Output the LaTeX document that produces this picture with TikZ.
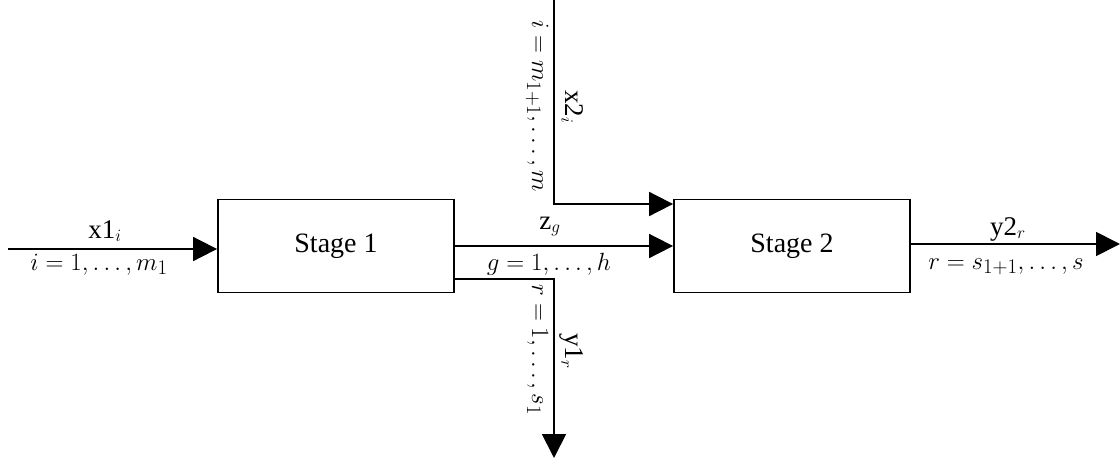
\documentclass[tikz,border=0pt]{standalone}
\usepackage{fontspec}
\setmainfont{Liberation Serif}
\usetikzlibrary{arrows.meta}
\begin{document}
\begin{tikzpicture}[x=1pt,y=-1pt,
  line width=1.8pt,
  stagebox/.style={draw,minimum width=236pt,minimum height=93pt,inner sep=0pt,font=\fontsize{28}{32}\selectfont},
  flow/.style={-{Triangle[length=24pt,width=24pt]}},
  lbl/.style={inner sep=0pt,anchor=base,font=\fontsize{27}{31}\selectfont},
  mlbl/.style={inner sep=0pt,anchor=base,font=\fontsize{28}{32}\selectfont}]
\useasboundingbox (0,0) rectangle (1120,461);
\node[stagebox] (s1) at (336,246) {Stage 1};
\node[stagebox] (s2) at (792,246) {Stage 2};
\coordinate (in) at (8,249);
\coordinate (x2top) at (554,0);
\coordinate (x2c) at (554,204);
\coordinate (y1c) at (554,279);
\coordinate (y1end) at (554,458);
\coordinate (out) at (1120,244);
% input
\draw[flow] (in) -- (in -| s1.west);
\node[lbl] (lx1) at (105,238) {x1$_{i}$};
\node[mlbl] (li1) at (99,270) {$i=1,\dots,m_1$};
% z
\draw[flow] (s1.east |- 0,246) -- (s2.west |- 0,246);
\node[lbl] (lz) at (550,229) {z$_{g}$};
\node[mlbl] (lg) at (549,270) {$g=1,\dots,h$};
% x2
\draw[flow] (x2top) -- (x2c) -- (x2c -| s2.west);
\node[lbl,rotate=-90] (lx2) at (565,107) {x2$_{i}$};
\node[mlbl,rotate=-90] (li2) at (532,106) {$i=m_{1+1},\dots,m$};
% y1
\draw[flow] (y1c -| s1.east) -- (y1c) -- (y1end);
\node[lbl,rotate=-90] (ly1) at (565,351) {y1$_{r}$};
\node[mlbl,rotate=-90] (lr1) at (532,350) {$r=1,\dots,s_1$};
% y2
\draw[flow] (s2.east |- out) -- (out);
\node[lbl] (ly2) at (1008,235) {y2$_{r}$};
\node[mlbl] (lr2) at (1006,269) {$r=s_{1+1},\dots,s$};
\end{tikzpicture}
\end{document}
